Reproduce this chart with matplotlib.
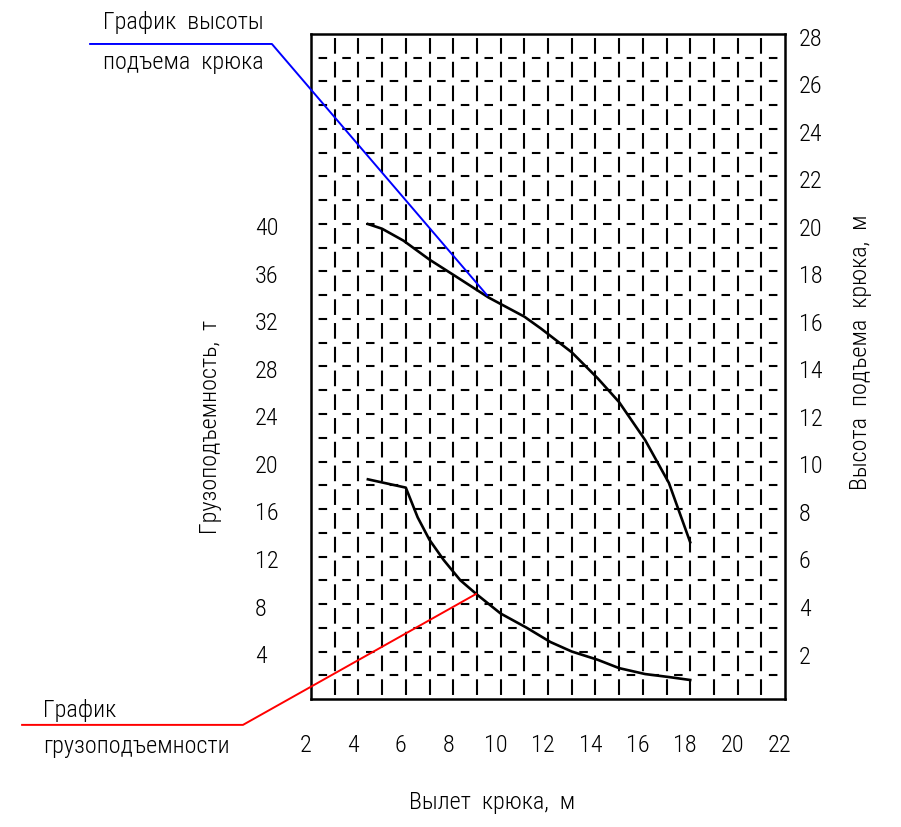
import numpy as np
import matplotlib
matplotlib.use('Agg')
import matplotlib.pyplot as plt
from matplotlib.transforms import ScaledTranslation

plt.rcParams['font.family'] = ['Roboto Condensed', 'DejaVu Sans']
plt.rcParams['font.weight'] = 'light'
plt.rcParams['lines.scale_dashes'] = False

# вылет крюка, м / высота подъема, м
height_x = [4.4, 5.0, 5.9, 7.0, 8.1, 9.5, 11.0, 11.7, 13.0, 14.1, 15.0, 16.1, 17.1, 18.0]
height_h = [20.0, 19.8, 19.3, 18.5, 17.8, 16.9, 16.1, 15.6, 14.6, 13.5, 12.5, 10.9, 9.1, 6.6]

# вылет крюка, м / грузоподъемность, т
load_x = [4.4, 6.0, 6.5, 7.0, 7.6, 8.3, 9.0, 10.0, 11.1, 12.1, 13.0, 14.1, 15.0, 16.1, 17.1, 18.0]
load_t = [18.5, 17.8, 15.3, 13.4, 11.7, 10.0, 8.8, 7.2, 6.0, 4.8, 4.0, 3.3, 2.6, 2.1, 1.85, 1.6]

x_ticks = [2, 4, 6, 8, 10, 12, 14, 16, 18, 20, 22]
h_ticks = [2, 4, 6, 8, 10, 12, 14, 16, 18, 20, 22, 24, 26, 28]
t_ticks = [4, 8, 12, 16, 20, 24, 28, 32, 36, 40]

# выноски (x, h) - в координатах графика
blue_leader_x = [-7.32, 0.35, 9.43]
blue_leader_h = [27.58, 27.58, 17.0]
red_leader_x = [-10.19, -0.87, 8.96]
red_leader_h = [-1.09, -1.09, 4.42]

W, H = 901, 827
fig = plt.figure(figsize=(W / 100, H / 100), dpi=100)
ax = fig.add_axes([311 / W, 1 - 699 / H, 474 / W, 665 / H])
ax.set_xlim(2, 22)
ax.set_ylim(0, 28)

for s in ax.spines.values():
    s.set_linewidth(1.8)

# сетка штрихами
cell_w = 474 * 0.72 / 20   # pt
cell_h = 665 * 0.72 / 28
v_on, v_off = cell_h * 0.66, cell_h * 0.34
h_on, h_off = cell_w * 0.36, cell_w * 0.64
for xv in range(3, 22):
    ax.plot([xv, xv], [0, 28], color='black', lw=1.5,
            linestyle=(v_on + v_off / 2, (v_on, v_off)))
for hv in range(1, 28):
    ax.plot([2, 22], [hv, hv], color='black', lw=1.5,
            linestyle=(h_on + h_off / 2, (h_on, h_off)))

ax.plot(height_x, height_h, color='black', lw=1.9, zorder=5)
ax.plot(load_x, np.array(load_t) / 2, color='black', lw=1.9, zorder=5)

ax.plot(blue_leader_x, blue_leader_h, color='blue', lw=1.4, clip_on=False, zorder=6)
ax.plot(red_leader_x, red_leader_h, color='red', lw=1.4, clip_on=False, zorder=6)

fs = 17.5
ax.set_xticks(x_ticks)
ax.set_xticklabels([str(v) for v in x_ticks], fontsize=fs)
ax.tick_params(axis='x', length=0, pad=25)
for lbl in ax.get_xticklabels():
    lbl.set_transform(lbl.get_transform() + ScaledTranslation(-0.05, 0, fig.dpi_scale_trans))

ax.yaxis.tick_right()
ax.set_yticks(h_ticks)
ax.set_yticklabels([str(v) for v in h_ticks], fontsize=fs)
ax.tick_params(axis='y', length=0, pad=10)
for lbl in ax.get_yticklabels():
    lbl.set_transform(lbl.get_transform() + ScaledTranslation(0, -0.03, fig.dpi_scale_trans))

for t in t_ticks:
    ax.text(-0.118, t / 2, str(t), transform=ax.get_yaxis_transform()
            + ScaledTranslation(0, -0.05, fig.dpi_scale_trans),
            ha='left', va='center', fontsize=fs)

fig.text(492 / W, 1 - 803 / H, 'Вылет  крюка,  м', ha='center', va='center', fontsize=fs)
fig.text(210 / W, 1 - 427 / H, 'Грузоподъемность,  т', ha='center', va='center',
         rotation=90, fontsize=fs)
fig.text(860 / W, 1 - 352 / H, 'Высота  подъема  крюка,  м', ha='center', va='center',
         rotation=90, fontsize=fs)

fig.text(103 / W, 1 - 22 / H, 'График  высоты', ha='left', va='center', fontsize=fs)
fig.text(103 / W, 1 - 63 / H, 'подъема  крюка', ha='left', va='center', fontsize=fs)
fig.text(43 / W, 1 - 710 / H, 'График', ha='left', va='center', fontsize=fs)
fig.text(43 / W, 1 - 747 / H, 'грузоподъемности', ha='left', va='center', fontsize=fs)

fig.savefig('out.png', dpi=100)
